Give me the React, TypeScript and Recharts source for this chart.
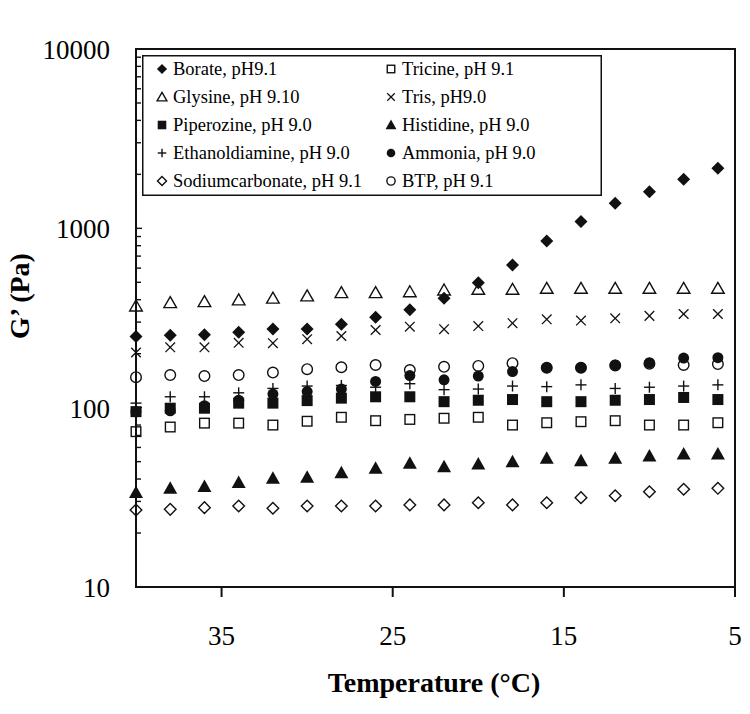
import { Legend, ReferenceArea, Scatter, ScatterChart, XAxis, YAxis } from "recharts";

const SERIF = "'Liberation Serif', 'Times New Roman', serif";
const INK = "#111";

// temperature steps, °C (sweep runs from 40 down to 6)
const TEMPS = [40, 38, 36, 34, 32, 30, 28, 26, 24, 22, 20, 18, 16, 14, 12, 10, 8, 6];

// G' values in Pa
const borate = [249, 253, 255, 263, 275, 275, 292, 319, 351, 408, 498, 625, 851, 1090, 1380, 1600, 1880, 2160];
const tricine = [73.5, 78, 82, 82, 80, 84, 88.4, 84.6, 86, 87.3, 88.4, 80, 82.4, 83.5, 84.6, 80, 80, 82.4];
const glysine = [369, 385, 390, 399, 408, 420, 438, 438, 443, 453, 457, 457, 463, 463, 463, 463, 463, 463];
const tris = [203, 217, 217, 230, 229, 241, 251, 271, 283, 274, 285, 296, 311, 306, 315, 325, 333, 333];
const piperozine = [95, 99.3, 99.3, 106, 106, 109.5, 113, 115, 115, 108, 110, 111, 108, 108, 110, 111, 114, 111];
const histidine = [33.6, 35.5, 36.3, 38.2, 40.4, 40.9, 43.4, 45.9, 49, 46.9, 48.5, 50, 52.2, 50.6, 52.2, 53.8, 55.2, 55.2];
const ethanoldiamine = [106, 115, 115, 121, 128, 132, 133, 130, 136, 126, 127, 132, 131, 134, 128, 130, 132, 134];
const ammonia = [95, 96, 102.5, 110, 119, 123, 127, 140, 151, 143, 150, 159, 167, 167, 173, 178, 189, 190];
const sodiumcarbonate = [26.9, 27.1, 27.7, 28.3, 27.5, 28.3, 28.3, 28.3, 28.7, 28.7, 29.5, 28.7, 29.5, 31.5, 32.3, 34, 35.1, 35.5];
const btp = [148, 152, 150, 152, 157, 164, 168, 173, 162, 169, 171, 177, 167, 167, 172, 176, 173, 175];

const X_TICKS = [35, 25, 15, 5];
const Y_MAJOR = [10, 100, 1000, 10000];
const Y_TICKS = [
  10, 20, 30, 40, 50, 60, 70, 80, 90,
  100, 200, 300, 400, 500, 600, 700, 800, 900,
  1000, 2000, 3000, 4000, 5000, 6000, 7000, 8000, 9000,
  10000,
];

type MarkerKind =
  | "diamond"
  | "openSquare"
  | "openTriangle"
  | "cross"
  | "square"
  | "triangle"
  | "plus"
  | "dot"
  | "openDiamond"
  | "openCircle";

const SERIES: { name: string; values: number[]; kind: MarkerKind }[] = [
  { name: "Borate, pH9.1", values: borate, kind: "diamond" },
  { name: "Tricine, pH 9.1", values: tricine, kind: "openSquare" },
  { name: "Glysine, pH 9.10", values: glysine, kind: "openTriangle" },
  { name: "Tris, pH9.0", values: tris, kind: "cross" },
  { name: "Piperozine, pH 9.0", values: piperozine, kind: "square" },
  { name: "Histidine, pH 9.0", values: histidine, kind: "triangle" },
  { name: "Ethanoldiamine, pH 9.0", values: ethanoldiamine, kind: "plus" },
  { name: "Ammonia, pH 9.0", values: ammonia, kind: "dot" },
  { name: "Sodiumcarbonate, pH 9.1", values: sodiumcarbonate, kind: "openDiamond" },
  { name: "BTP, pH 9.1", values: btp, kind: "openCircle" },
];

function Marker({ kind, cx, cy, s = 1 }: { kind: MarkerKind; cx: number; cy: number; s?: number }) {
  if (cx == null || cy == null) return null;
  const open = { fill: "none", stroke: INK, strokeWidth: 1.4 };
  switch (kind) {
    case "diamond": {
      const r = 6.5 * s;
      return <polygon points={`${cx},${cy - r} ${cx + r},${cy} ${cx},${cy + r} ${cx - r},${cy}`} fill={INK} />;
    }
    case "openDiamond": {
      const r = 5.8 * s;
      return <polygon points={`${cx},${cy - r} ${cx + r},${cy} ${cx},${cy + r} ${cx - r},${cy}`} {...open} />;
    }
    case "openSquare": {
      const h = 4.8 * s;
      return <rect x={cx - h} y={cy - h} width={2 * h} height={2 * h} {...open} />;
    }
    case "square": {
      const h = 5.5 * s;
      return <rect x={cx - h} y={cy - h} width={2 * h} height={2 * h} fill={INK} />;
    }
    case "openTriangle": {
      const w = 6.3 * s;
      return <polygon points={`${cx},${cy - 6 * s} ${cx + w},${cy + 5 * s} ${cx - w},${cy + 5 * s}`} {...open} />;
    }
    case "triangle": {
      const w = 7 * s;
      return <polygon points={`${cx},${cy - 7 * s} ${cx + w},${cy + 5.5 * s} ${cx - w},${cy + 5.5 * s}`} fill={INK} />;
    }
    case "cross": {
      const r = 4.8 * s;
      return (
        <g stroke={INK} strokeWidth={1.3}>
          <line x1={cx - r} y1={cy - r} x2={cx + r} y2={cy + r} />
          <line x1={cx - r} y1={cy + r} x2={cx + r} y2={cy - r} />
        </g>
      );
    }
    case "plus": {
      const r = 5.5 * s;
      return (
        <g stroke={INK} strokeWidth={1.4}>
          <line x1={cx - r} y1={cy} x2={cx + r} y2={cy} />
          <line x1={cx} y1={cy - r} x2={cx} y2={cy + r} />
        </g>
      );
    }
    case "dot":
      return <circle cx={cx} cy={cy} r={5.5 * s} fill={INK} />;
    case "openCircle":
      return <circle cx={cx} cy={cy} r={5.3 * s} {...open} />;
  }
}

function YTick({ x, y, payload }: any) {
  const v = payload.value;
  const major = Y_MAJOR.includes(v);
  return (
    <g>
      <line x1={x} x2={x + (major ? 6 : 5)} y1={y} y2={y} stroke={INK} strokeWidth={1.4} />
      {major && (
        <text x={x - 26} y={y} dy={10} textAnchor="end" fontFamily={SERIF} fontSize={27} fill="#000">
          {v}
        </text>
      )}
    </g>
  );
}

function XTick({ x, y, payload }: any) {
  return (
    <text x={x} y={y} dy={48} textAnchor="middle" fontFamily={SERIF} fontSize={27} fill="#000">
      {payload.value}
    </text>
  );
}

function LegendBox({ payload }: any) {
  // keep the legend in series order (two columns, filled row by row)
  const names = ((payload ?? []) as { value: string }[]).map((p) => p.value);
  const items = SERIES.filter((s) => names.includes(s.name));
  return (
    <svg width={460} height={141} style={{ display: "block" }}>
      <rect x={0.75} y={0.75} width={458.5} height={139.5} fill="#fff" stroke={INK} strokeWidth={1.5} />
      {items.map((s, i) => {
        const col = i % 2;
        const row = Math.floor(i / 2);
        const mx = col === 0 ? 20 : 249;
        const cy = 14 + row * 28;
        return (
          <g key={s.name}>
            <Marker kind={s.kind} cx={mx} cy={cy} s={0.78} />
            <text x={mx + 11} y={cy + 6} fontFamily={SERIF} fontSize={18.5} fill="#000">
              {s.name}
            </text>
          </g>
        );
      })}
    </svg>
  );
}

export default function App() {
  return (
    <div style={{ position: "absolute", left: 0, top: 0, width: 750, height: 714, background: "#fff" }}>
      <ScatterChart width={750} height={714} margin={{ top: 49, right: 15, bottom: 67, left: 0 }}>
        <XAxis
          dataKey="t"
          type="number"
          domain={[5, 40]}
          reversed
          ticks={X_TICKS}
          interval={0}
          height={60}
          axisLine={false}
          tickLine={{ stroke: INK, strokeWidth: 2 }}
          tickSize={10}
          tickMargin={0}
          tick={<XTick />}
        />
        <YAxis
          dataKey="g"
          type="number"
          scale="log"
          domain={[10, 10000]}
          allowDataOverflow
          ticks={Y_TICKS}
          interval={0}
          width={136}
          axisLine={false}
          tickLine={false}
          tickSize={0}
          tickMargin={0}
          tick={<YTick />}
        />
        <ReferenceArea
          x1={40}
          x2={5}
          y1={10}
          y2={10000}
          fill="none"
          fillOpacity={0}
          stroke={INK}
          strokeWidth={2}
          strokeOpacity={1}
          ifOverflow="visible"
        />
        {SERIES.map((s) => (
          <Scatter
            key={s.name}
            name={s.name}
            data={TEMPS.map((t, i) => ({ t, g: s.values[i] }))}
            dataKey="g"
            isAnimationActive={false}
            shape={(p: any) => <Marker kind={s.kind} cx={p.cx} cy={p.cy} />}
          />
        ))}
        <Legend
          layout="horizontal"
          verticalAlign="middle"
          align="center"
          content={<LegendBox />}
          wrapperStyle={{ left: 142, top: 55, width: 460, height: 141 }}
        />
      </ScatterChart>
      <svg width={750} height={714} style={{ position: "absolute", left: 0, top: 0, pointerEvents: "none" }}>
        <text x={434} y={692} textAnchor="middle" fontFamily={SERIF} fontWeight="bold" fontSize={28} fill="#000">
          Temperature (°C)
        </text>
        <text
          x={29}
          y={296}
          transform="rotate(-90 29 296)"
          textAnchor="middle"
          fontFamily={SERIF}
          fontWeight="bold"
          fontSize={28}
          fill="#000"
        >
          G’ (Pa)
        </text>
      </svg>
    </div>
  );
}
